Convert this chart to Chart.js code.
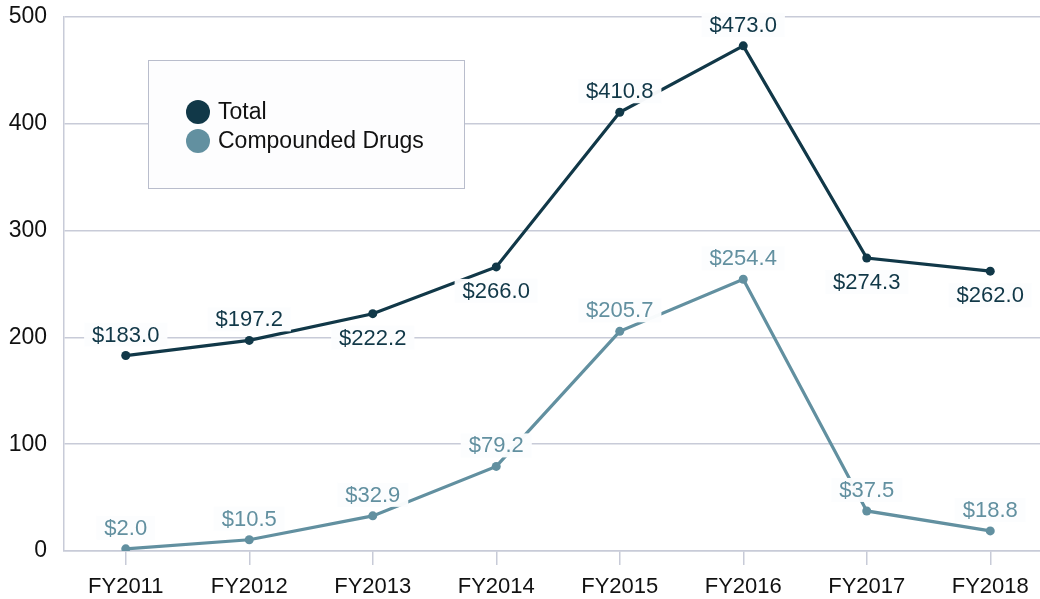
<!DOCTYPE html>
<html>
<head>
<meta charset="utf-8">
<script src="https://cdn.jsdelivr.net/npm/chart.js@4/dist/chart.umd.min.js"></script>
<style>
    html, body { margin: 0; padding: 0; overflow: hidden; background: #ffffff; }
    canvas { display: block; }
</style>
</head>
<body>
<canvas id="chart" width="1060" height="599"></canvas>
<script>
var years = ['FY2011', 'FY2012', 'FY2013', 'FY2014', 'FY2015', 'FY2016', 'FY2017', 'FY2018'];
var totalValues = [183.0, 197.2, 222.2, 266.0, 410.8, 473.0, 274.3, 262.0];
var compoundedValues = [2.0, 10.5, 32.9, 79.2, 205.7, 254.4, 37.5, 18.8];
var yTicks = [0, 100, 200, 300, 400, 500];

// where each value label sits relative to its point
var totalSides = ['up', 'up', 'down', 'down', 'up', 'up', 'down', 'down'];
var compoundedSides = ['up', 'up', 'up', 'up', 'up', 'up', 'up', 'up'];

var FONT = '"Liberation Sans", Arial, Helvetica, sans-serif';
var darkColor = '#113848';
var lightColor = '#6290a0';
var gridColor = '#c8cbd8';

var valueLabels = {
    id: 'valueLabels',
    afterDatasetsDraw: function (chart) {
        var ctx = chart.ctx;
        ctx.save();
        ctx.font = '22px ' + FONT;
        ctx.textAlign = 'center';
        ctx.textBaseline = 'middle';
        chart.data.datasets.forEach(function (ds, i) {
            var meta = chart.getDatasetMeta(i);
            meta.data.forEach(function (pt, j) {
                var txt = '$' + ds.data[j].toFixed(1);
                var y = ds.sides[j] == 'up' ? pt.y - 21 : pt.y + 24;
                var w = ctx.measureText(txt).width;
                ctx.fillStyle = 'rgba(252,253,254,0.97)';
                ctx.fillRect(pt.x - w / 2 - 8, y - 12, w + 16, 24);
                ctx.fillStyle = ds.borderColor;
                ctx.fillText(txt, pt.x, y + 1);
            });
        });
        ctx.restore();
    }
};

var boxLegend = {
    id: 'boxLegend',
    afterDraw: function (chart) {
        var ctx = chart.ctx;
        ctx.save();
        ctx.fillStyle = '#fdfdfe';
        ctx.fillRect(148.5, 60.5, 316, 128);
        ctx.strokeStyle = '#b9bdcc';
        ctx.lineWidth = 1;
        ctx.strokeRect(148.5, 60.5, 316, 128);
        ctx.font = '23px ' + FONT;
        ctx.textBaseline = 'middle';
        chart.data.datasets.forEach(function (ds, i) {
            var cy = 112 + i * 29;
            ctx.fillStyle = ds.borderColor;
            ctx.beginPath();
            ctx.arc(198, cy, 12, 0, Math.PI * 2);
            ctx.fill();
            ctx.fillStyle = '#111111';
            ctx.fillText(ds.label, 218, cy + 1);
        });
        ctx.restore();
    }
};

var ctx = document.getElementById('chart');

new Chart(ctx, {
    type: 'line',
    data: {
        labels: years,
        datasets: [{
            label: 'Total',
            data: totalValues,
            sides: totalSides,
            borderColor: darkColor,
            backgroundColor: darkColor,
            borderWidth: 3.2,
            pointRadius: 4.5,
            pointBorderWidth: 0,
            tension: 0
        }, {
            label: 'Compounded Drugs',
            data: compoundedValues,
            sides: compoundedSides,
            borderColor: lightColor,
            backgroundColor: lightColor,
            borderWidth: 3.2,
            pointRadius: 4.5,
            pointBorderWidth: 0,
            tension: 0
        }]
    },
    options: {
        responsive: false,
        animation: false,
        devicePixelRatio: 1,
        layout: {
            padding: { left: 0, right: 8, top: 17, bottom: 0 }
        },
        plugins: {
            legend: { display: false },
            tooltip: { enabled: false }
        },
        scales: {
            x: {
                offset: true,
                afterFit: function (scale) { scale.height = 48; },
                grid: {
                    offset: false,
                    drawOnChartArea: false,
                    drawTicks: true,
                    tickLength: 14,
                    color: gridColor,
                    lineWidth: 1.5
                },
                border: { color: gridColor, width: 1.5 },
                ticks: {
                    color: '#111111',
                    padding: 9,
                    maxRotation: 0,
                    font: { family: FONT, size: 22 }
                }
            },
            y: {
                min: 0,
                max: 500,
                afterFit: function (scale) {
                    scale.width = 64;
                    scale.paddingTop = 0;
                    scale.paddingBottom = 0;
                },
                afterBuildTicks: function (scale) {
                    scale.ticks = yTicks.map(function (v) { return { value: v }; });
                },
                grid: {
                    drawTicks: false,
                    color: gridColor,
                    lineWidth: 1.5
                },
                border: { color: gridColor, width: 1.5 },
                ticks: {
                    color: '#111111',
                    padding: 17,
                    font: { family: FONT, size: 23 }
                }
            }
        }
    },
    plugins: [valueLabels, boxLegend]
});
</script>
</body>
</html>
